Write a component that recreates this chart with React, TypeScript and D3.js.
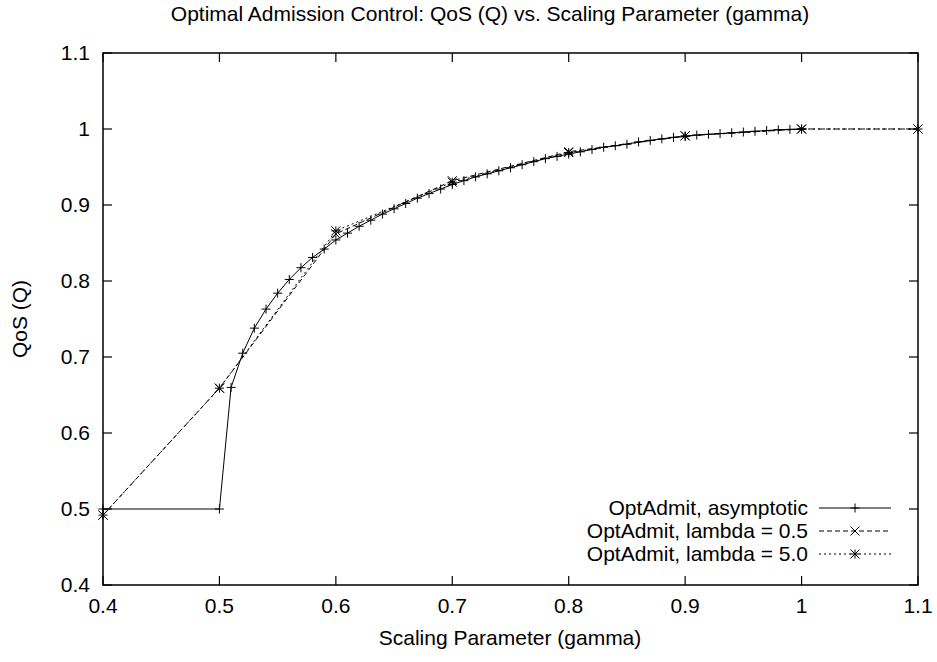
import React from "react";
import * as d3 from "d3";

// Scaling parameter (gamma) grid and QoS values for each admission policy
const asymGamma = [
  0.4, 0.5, 0.51, 0.52, 0.53, 0.54, 0.55, 0.56, 0.57, 0.58, 0.59, 0.6,
  0.61, 0.62, 0.63, 0.64, 0.65, 0.66, 0.67, 0.68, 0.69, 0.7,
  0.71, 0.72, 0.73, 0.74, 0.75, 0.76, 0.77, 0.78, 0.79, 0.8,
  0.81, 0.82, 0.83, 0.84, 0.85, 0.86, 0.87, 0.88, 0.89, 0.9,
  0.91, 0.92, 0.93, 0.94, 0.95, 0.96, 0.97, 0.98, 0.99, 1.0,
];
const asymQoS = [
  0.5, 0.5, 0.66, 0.705, 0.738, 0.763, 0.784, 0.802, 0.8175, 0.831, 0.842, 0.854,
  0.863, 0.872, 0.88, 0.888, 0.895, 0.902, 0.909, 0.915, 0.921, 0.927,
  0.932, 0.937, 0.941, 0.945, 0.949, 0.953, 0.957, 0.961, 0.964, 0.967,
  0.97, 0.973, 0.976, 0.978, 0.98, 0.983, 0.985, 0.987, 0.989, 0.99,
  0.992, 0.993, 0.994, 0.995, 0.996, 0.997, 0.998, 0.999, 0.9995, 1.0,
];

const lambdaGamma = [0.4, 0.5, 0.6, 0.7, 0.8, 0.9, 1.0, 1.1];
const lambda05QoS = [0.492, 0.659, 0.862, 0.932, 0.97, 0.991, 1.0, 1.0];
const lambda50QoS = [0.492, 0.659, 0.866, 0.93, 0.969, 0.991, 1.0, 1.0];

const xTicks = [0.4, 0.5, 0.6, 0.7, 0.8, 0.9, 1, 1.1];
const yTicks = [0.4, 0.5, 0.6, 0.7, 0.8, 0.9, 1, 1.1];

const seriesNames = [
  "OptAdmit, asymptotic",
  "OptAdmit, lambda = 0.5",
  "OptAdmit, lambda = 5.0",
];

const W = 937;
const H = 662;
const M = { left: 103, right: 918, top: 53, bottom: 585 };
const FONT = "'Liberation Sans', Arial, sans-serif";
const FS = 21;

type Marker = "plus" | "cross" | "star";

function markerPath(kind: Marker, cx: number, cy: number, r = 4.5): string {
  const plus = `M${cx - r},${cy}H${cx + r}M${cx},${cy - r}V${cy + r}`;
  const cross = `M${cx - r},${cy - r}L${cx + r},${cy + r}M${cx - r},${cy + r}L${cx + r},${cy - r}`;
  if (kind === "plus") return plus;
  if (kind === "cross") return cross;
  return plus + cross;
}

export default function App() {
  const x = d3.scaleLinear().domain([0.4, 1.1]).range([M.left, M.right]);
  const y = d3.scaleLinear().domain([0.4, 1.1]).range([M.bottom, M.top]);
  const line = d3
    .line<[number, number]>()
    .x((d) => x(d[0]))
    .y((d) => y(d[1]));

  const series: { pts: [number, number][]; dash?: string; marker: Marker }[] = [
    { pts: asymGamma.map((g, i) => [g, asymQoS[i]]), marker: "plus" },
    { pts: lambdaGamma.map((g, i) => [g, lambda05QoS[i]]), dash: "5,3", marker: "cross" },
    { pts: lambdaGamma.map((g, i) => [g, lambda50QoS[i]]), dash: "2,3", marker: "star" },
  ];

  const tickLen = 9;
  const legendTextX = 808;
  const legendLine = [819, 891];
  const legendRows = [508, 531, 554];

  return (
    <svg width={W} height={H} style={{ display: "block", position: "absolute", left: 0, top: 0, background: "#fff" }}>
      <rect width={W} height={H} fill="#fff" />
      <text x={490} y={21} textAnchor="middle" fontFamily={FONT} fontSize={FS}>
        Optimal Admission Control: QoS (Q) vs. Scaling Parameter (gamma)
      </text>

      {/* ticks, mirrored on all four sides */}
      <g stroke="#000" strokeWidth={1.2}>
        {xTicks.map((t) => (
          <g key={"xt" + t}>
            <line x1={x(t)} x2={x(t)} y1={M.bottom} y2={M.bottom - tickLen} />
            <line x1={x(t)} x2={x(t)} y1={M.top} y2={M.top + tickLen} />
          </g>
        ))}
        {yTicks.map((t) => (
          <g key={"yt" + t}>
            <line x1={M.left} x2={M.left + tickLen} y1={y(t)} y2={y(t)} />
            <line x1={M.right} x2={M.right - tickLen} y1={y(t)} y2={y(t)} />
          </g>
        ))}
      </g>
      <g fontFamily={FONT} fontSize={FS}>
        {xTicks.map((t) => (
          <text key={"xl" + t} x={x(t)} y={M.bottom + 28} textAnchor="middle">
            {String(t)}
          </text>
        ))}
        {yTicks.map((t) => (
          <text key={"yl" + t} x={M.left - 13} y={y(t) + 7} textAnchor="end">
            {String(t)}
          </text>
        ))}
      </g>
      <text x={510} y={645} textAnchor="middle" fontFamily={FONT} fontSize={FS}>
        Scaling Parameter (gamma)
      </text>
      <text
        transform={`translate(27,${(M.top + M.bottom) / 2}) rotate(-90)`}
        textAnchor="middle"
        fontFamily={FONT}
        fontSize={FS}
      >
        QoS (Q)
      </text>

      {/* data */}
      {series.map((s, i) => (
        <g key={"s" + i}>
          <path d={line(s.pts) || ""} fill="none" stroke="#000" strokeWidth={1} strokeDasharray={s.dash} />
          <path
            d={s.pts.map((p) => markerPath(s.marker, x(p[0]), y(p[1]))).join("")}
            fill="none"
            stroke="#000"
            strokeWidth={1}
          />
        </g>
      ))}

      {/* legend */}
      {series.map((s, i) => (
        <g key={"lg" + i}>
          <text x={legendTextX} y={legendRows[i] + 7} textAnchor="end" fontFamily={FONT} fontSize={FS}>
            {seriesNames[i]}
          </text>
          <line
            x1={legendLine[0]}
            x2={legendLine[1]}
            y1={legendRows[i]}
            y2={legendRows[i]}
            stroke="#000"
            strokeWidth={1}
            strokeDasharray={s.dash}
          />
          <path
            d={markerPath(s.marker, (legendLine[0] + legendLine[1]) / 2, legendRows[i])}
            fill="none"
            stroke="#000"
            strokeWidth={1}
          />
        </g>
      ))}

      <rect
        x={M.left}
        y={M.top}
        width={M.right - M.left}
        height={M.bottom - M.top}
        fill="none"
        stroke="#000"
        strokeWidth={1.5}
      />
    </svg>
  );
}
